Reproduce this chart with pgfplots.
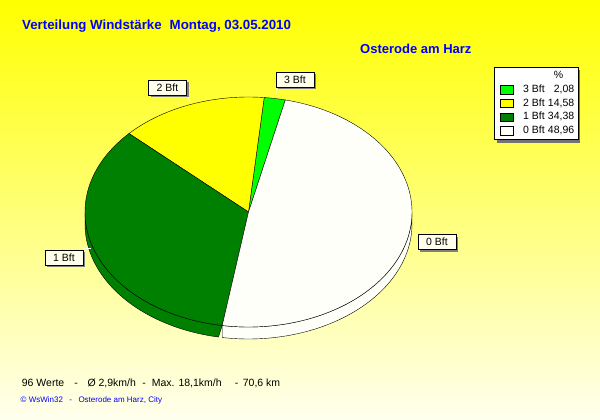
\documentclass[border=0pt]{standalone}
\usepackage{pgfplots}
\usepackage{pgfplotstable}
\pgfplotsset{compat=1.18}
\usepackage{fontspec}
\setmainfont{Liberation Sans}
\usetikzlibrary{shadows}
\definecolor{bgtop}{RGB}{255,255,0}
\definecolor{bgbot}{RGB}{255,255,238}
\definecolor{bftthree}{RGB}{0,255,0}
\definecolor{bfttwo}{RGB}{255,255,0}
\definecolor{bftone}{RGB}{0,128,0}
\definecolor{bftzero}{RGB}{255,255,250}
\definecolor{lblfill}{RGB}{255,255,235}
\definecolor{wsblue}{RGB}{0,0,255}
\pgfplotstableread{
bft pct
3 2.08
2 14.58
1 34.38
0 48.96
}\windtable
\pgfplotstablegetelem{0}{pct}\of\windtable \pgfmathsetmacro\pA{\pgfplotsretval}
\pgfplotstablegetelem{1}{pct}\of\windtable \pgfmathsetmacro\pB{\pgfplotsretval}
\pgfplotstablegetelem{2}{pct}\of\windtable \pgfmathsetmacro\pC{\pgfplotsretval}
\pgfplotstablegetelem{3}{pct}\of\windtable \pgfmathsetmacro\pD{\pgfplotsretval}
\pgfmathsetmacro\tA{77}
\pgfmathsetmacro\tB{\tA+3.6*\pA}
\pgfmathsetmacro\tC{\tB+3.6*\pB}
\pgfmathsetmacro\tD{\tC+3.6*\pC}
\pgfmathsetmacro\tE{\tD+3.6*\pD}
\pgfmathsetmacro\gEnd{2*\tD-180}
\pgfmathsetmacro\wEnd{720-\tD}
\def\cx{248.5}
\def\cy{212}
\def\rx{163.5}
\def\ry{115}
\def\dep{12}
\tikzset{lbl/.style={draw=black, fill=lblfill, minimum width=38pt, minimum height=15pt, inner sep=0pt,
  font=\fontsize{10.5}{12}\selectfont, drop shadow={shadow xshift=2pt,shadow yshift=-2pt,fill=black!50,opacity=1}},
  btxt/.style={anchor=base west,font=\fontsize{10.5}{12}\selectfont,inner sep=0pt},
  bdash/.style={anchor=base,font=\fontsize{10.5}{12}\selectfont,inner sep=0pt}}
\newcommand{\swatch}[1]{\addlegendimage{legend image code/.code={\path (-3pt,0pt) (22pt,0pt);\draw[black,fill=#1] (0pt,-4.2pt) rectangle (13pt,4.2pt);}}}
\begin{document}
\begin{tikzpicture}
\begin{axis}[width=600pt,height=420pt,scale only axis,
  xmin=0,xmax=600,ymin=0,ymax=420,y dir=reverse,hide axis,clip=false,
  legend style={at={(axis cs:494,67)},anchor=north west,draw=black,fill=white,
    font=\fontsize{10.5}{12}\selectfont,row sep=2.2pt,column sep=0pt,inner xsep=3pt,inner ysep=3pt,
    nodes={inner sep=0.6pt,text height=8pt,text depth=2.3pt}},
  legend cell align=left]
\fill[top color=bgtop,bottom color=bgbot] (axis cs:0,0) rectangle (axis cs:600,420);
% side faces
\addplot[draw=black,fill=bftone,domain=180:\gEnd,samples=121,variable=\t,forget plot]
  ({\cx+\rx*cos((\t<=\tD) ? \t : 2*\tD-\t)},{\cy-\ry*sin((\t<=\tD) ? \t : 2*\tD-\t)+((\t>\tD) ? \dep : 0)}) -- cycle;
\addplot[draw=black,fill=bftzero,domain=\tD:\wEnd,samples=121,variable=\t,forget plot]
  ({\cx+\rx*cos((\t<=360) ? \t : 720-\t)},{\cy-\ry*sin((\t<=360) ? \t : 720-\t)+((\t>360) ? \dep : 0)}) -- cycle;
% top faces
\addplot[draw=black,fill=bftthree,domain=\tA:\tB,samples=8,variable=\t,forget plot]
  ({\cx+\rx*cos(\t)},{\cy-\ry*sin(\t)}) -- (axis cs:\cx,\cy) -- cycle;
\addplot[draw=black,fill=bfttwo,domain=\tB:\tC,samples=40,variable=\t,forget plot]
  ({\cx+\rx*cos(\t)},{\cy-\ry*sin(\t)}) -- (axis cs:\cx,\cy) -- cycle;
\addplot[draw=black,fill=bftone,domain=\tC:\tD,samples=80,variable=\t,forget plot]
  ({\cx+\rx*cos(\t)},{\cy-\ry*sin(\t)}) -- (axis cs:\cx,\cy) -- cycle;
\addplot[draw=black,fill=bftzero,domain=\tD:\tE,samples=120,variable=\t,forget plot]
  ({\cx+\rx*cos(\t)},{\cy-\ry*sin(\t)}) -- (axis cs:\cx,\cy) -- cycle;
% leader lines
\draw[white] (axis cs:277,88) -- (axis cs:275.5,97);
\draw[white] (axis cs:187,96) -- (axis cs:190,101.5);
\draw[white] (axis cs:83,248.5) -- (axis cs:91,248.5);
\draw[white] (axis cs:412,233) -- (axis cs:419,235);
% labels
\node[lbl] at (axis cs:295,80) {3 Bft};
\node[lbl] at (axis cs:167.5,87.5) {2 Bft};
\node[lbl] at (axis cs:64,257.5) {1 Bft};
\node[lbl] at (axis cs:437,242) {0 Bft};
% legend shadow
\fill[black!55] (axis cs:497,70) rectangle (axis cs:580,143);
% legend
\addlegendimage{legend image code/.code={\path (-3pt,0pt) (22pt,0pt);}}\addlegendentry{\makebox[51pt][r]{\%\hspace{11pt}}}
\swatch{bftthree}\addlegendentry{\makebox[51pt]{3 Bft\hfill 2,08}}
\swatch{bfttwo}\addlegendentry{\makebox[51pt]{2 Bft\hfill 14,58}}
\swatch{bftone}\addlegendentry{\makebox[51pt]{1 Bft\hfill 34,38}}
\swatch{bftzero}\addlegendentry{\makebox[51pt]{0 Bft\hfill 48,96}}
% texts
\node[anchor=base west,text=wsblue,font=\fontsize{13.3}{15}\selectfont\bfseries,inner sep=0pt] at (axis cs:22,30) {Verteilung Windstärke\hspace{0.6em}Montag, 03.05.2010};
\node[anchor=base west,text=wsblue,font=\fontsize{13}{15}\selectfont\bfseries,inner sep=0pt] at (axis cs:360,54) {Osterode am Harz};
\node[btxt] at (axis cs:21.7,386) {96 Werte};
\node[bdash] at (axis cs:76,386) {-};
\node[btxt] at (axis cs:87.3,386) {Ø 2,9km/h};
\node[bdash] at (axis cs:144,386) {-};
\node[btxt] at (axis cs:151.7,386) {Max. 18,1km/h};
\node[bdash] at (axis cs:236.7,386) {-};
\node[btxt] at (axis cs:242.7,386) {70,6 km};
\node[anchor=base west,text=wsblue,font=\fontsize{8}{10}\selectfont,inner sep=0pt] at (axis cs:20.5,402.5) {© WsWin32\hspace{0.8em}-\hspace{0.8em}Osterode am Harz, City};
\end{axis}
\end{tikzpicture}
\end{document}
